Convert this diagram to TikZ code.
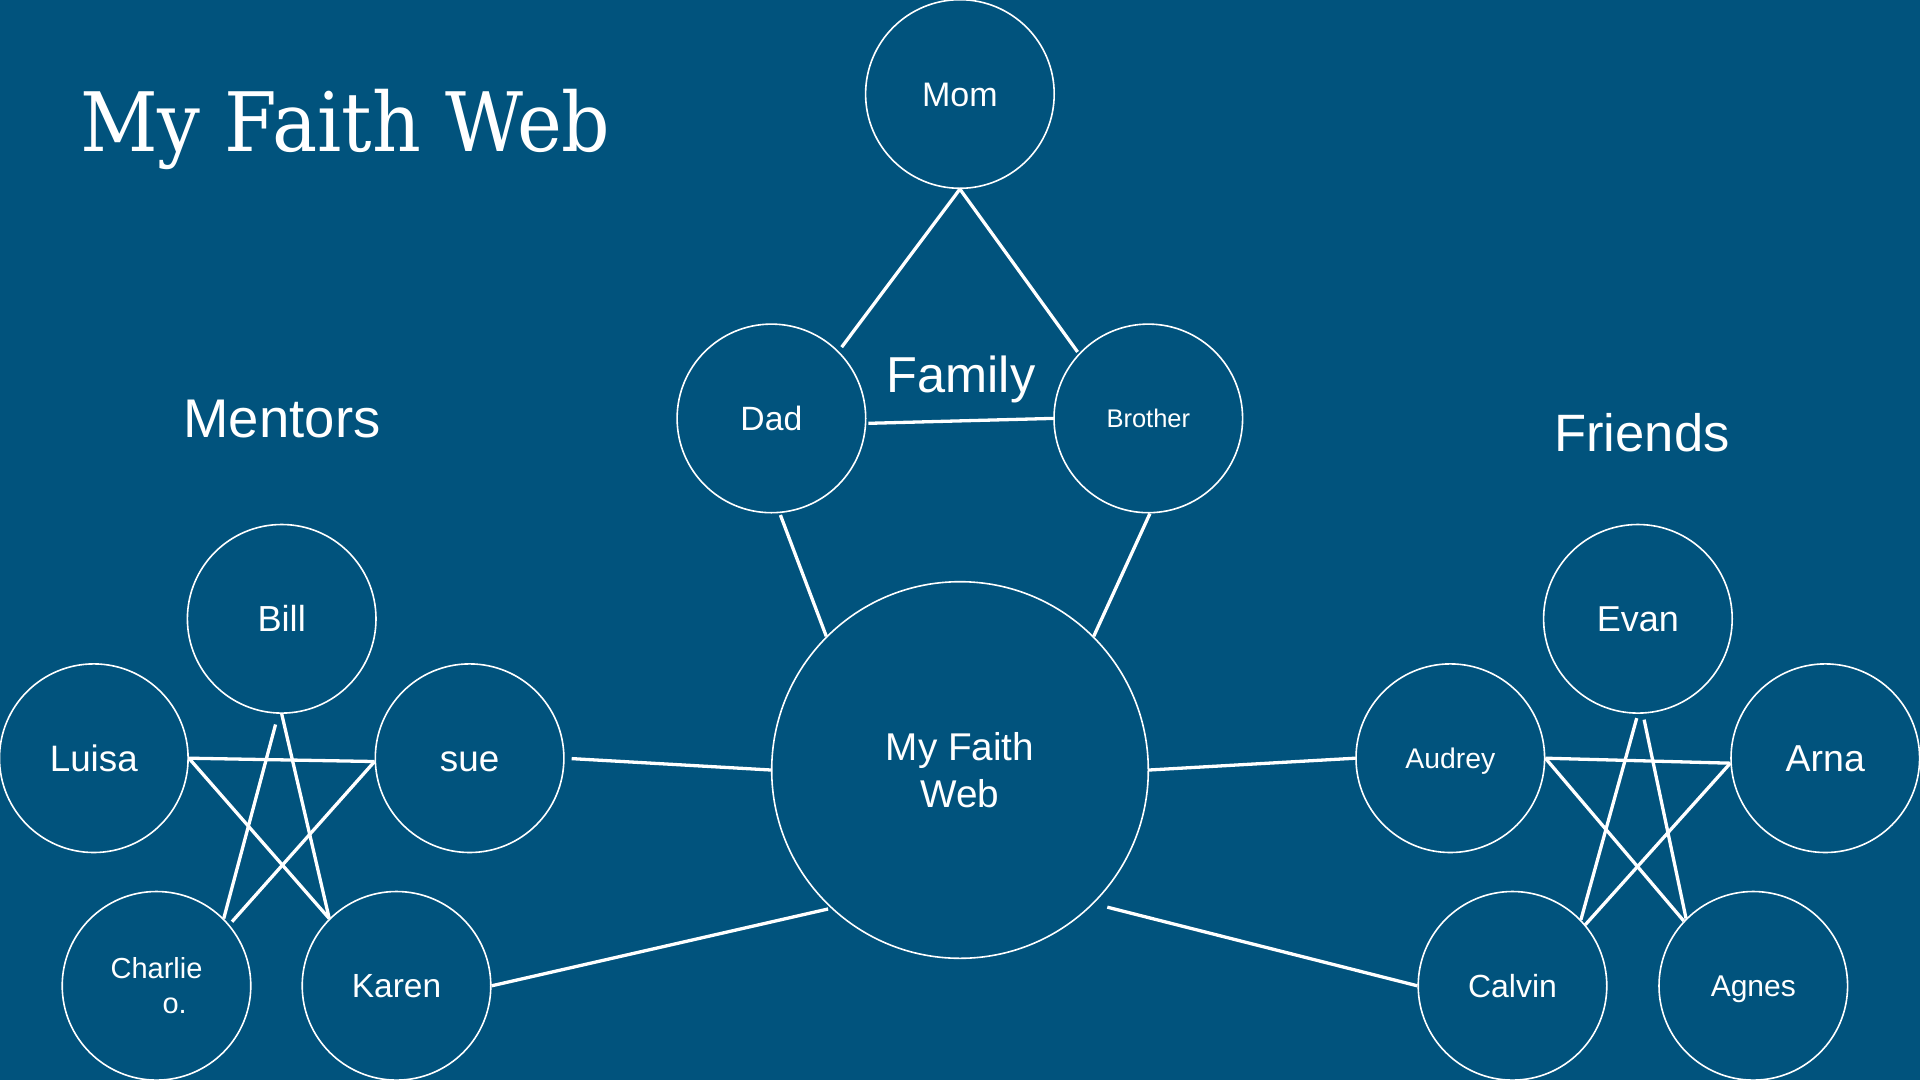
\documentclass[tikz,border=0pt]{standalone}
\usepackage{fontspec}
\usepackage{graphicx}
\setmainfont{Liberation Sans}
\newfontfamily\slabfont{DejaVu Serif}
\definecolor{bgblue}{RGB}{1,83,125}
\tikzset{
  person/.style={circle, draw=white, line width=1.6pt, minimum size=188.6pt, inner sep=0pt, text=white,
    font=\fontsize{#1}{#1}\selectfont, text height={0.716*#1pt}, text depth=0pt},
  multi/.style={circle, draw=white, line width=1.6pt, minimum size=188.6pt, inner sep=0pt, text=white, align=center},
  heading/.style={text=white, inner sep=0pt, anchor=base, font=\fontsize{#1}{#1}\selectfont},
  link/.style={draw=white, line width=3.3pt}
}
\begin{document}
\begin{tikzpicture}[x=1pt,y=-1pt]
\fill[bgblue] (0,0) rectangle (1920,1080);
\useasboundingbox (0,0) rectangle (1920,1080);

% title and headings
\node[heading=82, anchor=base west, font=\slabfont\fontsize{82}{82}\selectfont] (title) at (80,151) {\scalebox{0.925}[1]{My Faith Web}};
\node[heading=54.5] (mentors) at (282,437) {Mentors};
\node[heading=52.6] (friends) at (1642,451) {Friends};
\node[heading=50.5] (family) at (961,392.6) {Family};

% family
\node[person=34] (mom) at (959.9,94) {Mom};
\node[person=33.7] (dad) at (771.4,418.4) {Dad};
\node[person=25.5] (brother) at (1148.3,418.4) {Brother};

% center
\node[multi, minimum size=376.6pt, font=\fontsize{38.7}{47.3}\selectfont] (main) at (960,770) {My Faith\\Web};

% mentors
\node[person=36.2] (bill) at (281.7,618.8) {Bill};
\node[person=36.8] (luisa) at (93.8,758.2) {Luisa};
\node[person=36.8] (sue) at (469.6,758.2) {sue};
\node[multi, font=\fontsize{29}{35.6}\selectfont] (charlie) at (156.5,985.8) {Charlie\\\hspace*{36.4pt}o.};
\node[person=33.5] (karen) at (396.5,985.8) {Karen};

% friends
\node[person=36] (evan) at (1637.9,618.8) {Evan};
\node[person=28.4] (audrey) at (1450.3,758.2) {Audrey};
\node[person=37.5] (arna) at (1825.3,758.2) {Arna};
\node[person=32] (calvin) at (1512.5,985.8) {Calvin};
\node[person=30] (agnes) at (1753.3,985.8) {Agnes};

% family links
\draw[link, shorten >=5pt] (mom.south) -- (dad.45);
\draw[link, shorten >=2pt] (mom.south) -- (brother.137);
\draw[link, shorten <=2pt] (dad.-3) -- (brother.west);
\draw[link, shorten <=2pt] (dad.-85) -- (main.135);
\draw[link] (brother.-89) -- (main.45);

% links to center
\draw[link, shorten <=7pt] (sue.east) -- (main.west);
\draw[link, shorten >=3pt] (karen.east) -- (main.227);
\draw[link] (main.east) -- (audrey.west);
\draw[link, shorten <=14pt] (main.-45) -- (calvin.west);

% mentors star
\draw[link] (luisa.east) -- (sue.182);
\draw[link] (luisa.east) -- (karen.135);
\draw[link, shorten >=4pt] (sue.182) -- (charlie.40);
\draw[link] (bill.south) -- (karen.135);
\draw[link, shorten <=11pt] (bill.-92) -- (charlie.45);

% friends star
\draw[link] (audrey.east) -- (arna.183);
\draw[link] (audrey.east) -- (agnes.137);
\draw[link] (arna.183) -- (calvin.40);
\draw[link, shorten <=4.4pt] (evan.-90) -- (calvin.44);
\draw[link, shorten <=6pt] (evan.-87) -- (agnes.135);
\end{tikzpicture}
\end{document}
